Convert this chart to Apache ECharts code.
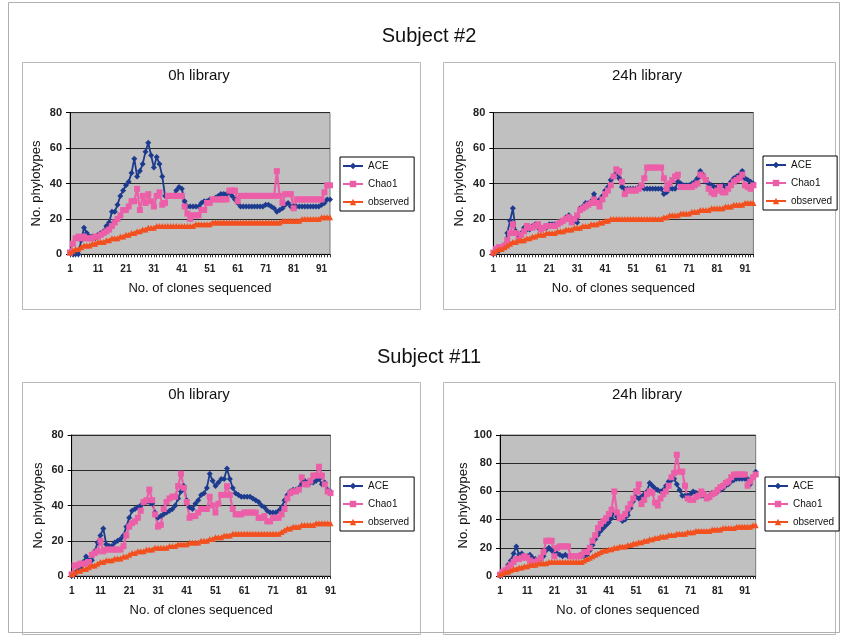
<!DOCTYPE html>
<html><head><meta charset="utf-8">
<script src="https://cdn.jsdelivr.net/npm/echarts@6/dist/echarts.min.js"></script>
<style>html,body{margin:0;padding:0;background:#fff}#c{width:842px;height:635px}</style>
</head><body><div id="c"></div>
<script>
// ---- Subject #2, 0h library (clones 1..94)
const s2h0_ace = [1,0,0,0,8,15,12,10,10,9, 11,12,13,16,18,24,24,28,33,36, 39,41,46,54,44,47,51,58,63,56, 49,55,51,44,33,33,33,33,36,38, 37,30,27,27,27,27,27,29,30,30, 31,31,32,33,34,34,34,35,33,31, 29,27,27,27,27,27,27,27,27,27, 28,28,27,26,24,25,26,28,29,27, 27,27,27,27,27,27,27,27,27,27, 28,29,31,31];
const s2h0_chao = [1,6,9,10,9,10,9,9,9,10, 10,11,12,13,14,16,18,20,22,25, 25,27,30,30,37,25,33,29,34,30, 27,33,35,28,29,33,33,33,33,33, 33,27,23,20,22,22,22,25,25,29, 29,31,31,31,31,31,31,36,36,36, 30,33,33,33,33,33,33,33,33,33, 33,33,33,33,47,33,29,34,34,34, 26,31,31,31,31,31,31,31,31,31, 31,35,39,39];
const s2h0_obs = [1,2,3,3,4,5,5,5,6,6, 7,7,7,8,8,9,9,9,10,10, 11,11,12,12,13,13,14,14,15,15, 15,16,16,16,16,16,16,16,16,16, 16,16,16,16,16,17,17,17,17,17, 17,18,18,18,18,18,18,18,18,18, 18,18,18,18,18,18,18,18,18,18, 18,18,18,18,18,18,19,19,19,19, 19,19,19,20,20,20,20,20,20,20, 21,21,21,21];
// ---- Subject #2, 24h library (clones 1..94)
const s2h24_ace = [0,1,2,3,4,12,19,26,13,11, 12,15,14,14,16,17,15,14,15,15, 17,17,17,17,18,19,21,22,20,19, 18,26,27,29,29,30,34,30,31,33, 36,38,42,44,46,43,38,37,37,37, 37,37,38,38,37,37,37,37,37,37, 37,34,35,37,37,37,41,40,39,39, 39,40,41,43,47,45,41,40,39,38, 38,38,39,38,39,41,43,44,45,47, 43,42,41,40];
const s2h24_chao = [1,3,4,4,5,8,12,17,12,8, 11,13,16,15,15,16,17,14,15,16, 16,16,16,17,18,19,20,21,18,20, 22,25,26,27,28,29,31,29,27,31, 34,36,39,44,48,47,41,34,36,36, 36,36,37,39,43,49,49,49,49,49, 49,43,37,40,42,44,45,38,38,38, 38,38,39,40,45,44,42,37,35,34, 36,38,35,35,37,39,41,42,43,45, 39,38,37,39];
const s2h24_obs = [1,2,3,3,4,5,6,7,7,8, 8,8,9,9,10,10,11,11,11,12, 12,12,12,13,13,13,14,14,14,15, 15,15,16,16,16,17,17,17,18,18, 19,19,20,20,20,20,20,20,20,20, 20,20,20,20,20,20,20,20,20,20, 20,21,21,22,22,22,22,23,23,23, 23,24,24,24,25,25,25,25,26,26, 26,26,26,27,27,27,28,28,28,28, 29,29,29,29];
// ---- Subject #11, 0h library (clones 1..91)
const s11h0_ace = [0,1,3,5,8,11,9,9,14,19, 23,27,18,17,17,19,20,21,23,28, 33,37,38,39,40,42,42,42,41,36, 33,34,35,36,37,38,40,44,48,51, 43,39,38,41,43,46,47,50,58,54, 51,53,55,55,61,55,50,47,46,45, 45,45,45,44,43,42,40,39,37,36, 36,36,37,39,43,46,48,49,49,50, 52,54,53,53,53,54,55,52,53,49, 48];
const s11h0_chao = [1,6,6,7,7,7,8,12,13,14, 20,14,15,15,15,15,15,15,17,23, 28,30,31,33,37,42,43,49,43,35, 28,29,38,42,44,45,45,51,58,50, 42,33,34,34,36,38,38,38,45,40, 36,41,46,46,51,46,38,35,35,35, 36,36,36,36,36,33,33,34,31,31, 33,33,33,35,38,44,47,48,48,49, 56,52,52,54,57,57,62,57,52,48, 47];
const s11h0_obs = [1,2,3,3,4,4,5,6,6,7, 8,8,9,9,9,10,10,10,11,11, 12,13,13,14,14,14,15,15,15,16, 16,16,16,16,17,17,17,18,18,18, 18,19,19,19,19,20,20,20,21,21, 22,22,22,23,23,23,24,24,24,24, 24,24,24,24,24,24,24,24,24,24, 24,24,24,25,26,27,27,28,28,28, 29,29,29,29,29,30,30,30,30,30, 30];
// ---- Subject #11, 24h library (clones 1..95)
const s11h24_ace = [0,1,4,8,11,16,21,15,16,13, 14,15,13,12,11,12,14,18,20,18, 15,16,15,14,15,14,14,14,14,14, 14,14,15,18,22,26,29,32,34,36, 38,41,45,42,41,39,40,43,48,53, 56,55,56,58,60,66,64,62,61,60, 61,64,67,68,69,65,61,57,57,57, 58,60,59,58,57,57,56,57,59,59, 60,61,62,64,65,67,68,69,69,69, 69,69,65,70,74];
const s11h24_chao = [1,3,4,6,8,10,12,12,13,14, 13,11,10,10,11,13,17,25,25,25, 14,20,21,21,21,21,14,14,14,14, 15,17,17,20,25,29,34,37,39,41, 44,47,60,45,41,42,44,48,51,55, 60,65,51,54,58,60,59,52,50,55, 58,60,64,70,73,86,74,74,64,55, 54,54,56,57,60,58,55,56,58,59, 61,63,64,66,67,70,72,72,72,72, 72,64,67,70,72];
const s11h24_obs = [1,2,3,3,4,5,5,6,6,7, 7,8,8,8,9,9,9,9,10,10, 10,10,10,10,10,10,10,10,10,10, 10,11,12,13,14,15,16,17,18,18, 19,19,20,20,21,21,21,22,22,23, 23,24,24,25,25,26,26,27,27,28, 28,28,29,29,29,30,30,30,30,31, 31,31,32,32,32,32,32,32,33,33, 33,33,34,34,34,34,34,35,35,35, 35,35,35,36,36];

const seriesNames = ['ACE', 'Chao1', 'observed'];
const subjectTitles = ['Subject #2', 'Subject #11'];
const panelTitles = ['0h library', '24h library', '0h library', '24h library'];
const yMax = [80, 80, 80, 100];
const xName = 'No. of clones sequenced';
const yName = 'No. phylotypes';

function clonesFor(arr) { return arr.map((_, k) => String(k + 1)); }

const panels = [
  {ace: s2h0_ace, chao: s2h0_chao, obs: s2h0_obs},
  {ace: s2h24_ace, chao: s2h24_chao, obs: s2h24_obs},
  {ace: s11h0_ace, chao: s11h0_chao, obs: s11h0_obs},
  {ace: s11h24_ace, chao: s11h24_chao, obs: s11h24_obs}
];

// layout (pixels)
const grids = [
  {left: 70, top: 112.7, width: 260, height: 141.6},
  {left: 493.3, top: 112.7, width: 260.1, height: 141.6},
  {left: 71.7, top: 435, width: 258.8, height: 141},
  {left: 500, top: 435, width: 255.7, height: 141}
];
const legendPos = [
  {left: 340, top: 157}, {left: 763, top: 156},
  {left: 340, top: 477}, {left: 765, top: 477}
];
const panelBoxes = [
  {x: 22, y: 62, w: 398, h: 247}, {x: 443, y: 62, w: 392, h: 247},
  {x: 22, y: 382, w: 398, h: 252}, {x: 443, y: 382, w: 392, h: 252}
];
const panelTitlePos = [[199, 76], [647, 76], [199, 395], [647, 395]];

const colors = {ace: '#1d3b8e', chao: '#ec5fa8', obs: '#f2501f'};
const font = '"Liberation Sans", Arial, sans-serif';

const option = {
  animation: false,
  backgroundColor: '#ffffff',
  textStyle: {fontFamily: font},
  grid: [], xAxis: [], yAxis: [], series: [], legend: [],
  graphic: []
};

option.graphic.push({type: 'rect', shape: {x: 8.5, y: 2.5, width: 831, height: 630}, style: {fill: 'none', stroke: '#b0b0b0', lineWidth: 1}, silent: true});
panelBoxes.forEach(b => option.graphic.push({type: 'rect', shape: {x: b.x + 0.5, y: b.y + 0.5, width: b.w, height: b.h}, style: {fill: '#ffffff', stroke: '#b8b8b8', lineWidth: 1}, silent: true, z: -1}));
option.graphic.push({type: 'text', x: 429, y: 36, style: {text: subjectTitles[0], font: '20px ' + font, fill: '#111', textAlign: 'center', textVerticalAlign: 'middle'}});
option.graphic.push({type: 'text', x: 429, y: 357, style: {text: subjectTitles[1], font: '20px ' + font, fill: '#111', textAlign: 'center', textVerticalAlign: 'middle'}});
panelTitlePos.forEach((p, i) => option.graphic.push({type: 'text', x: p[0], y: p[1], style: {text: panelTitles[i], font: '15px ' + font, fill: '#111', textAlign: 'center', textVerticalAlign: 'middle'}}));

panels.forEach((p, i) => {
  option.grid.push(Object.assign({show: true, backgroundColor: '#c0c0c0', borderColor: '#7a7a7a', borderWidth: 1}, grids[i]));
  option.xAxis.push({
    type: 'category', gridIndex: i, boundaryGap: false, data: clonesFor(p.obs),
    name: xName, nameLocation: 'middle', nameGap: 28,
    nameTextStyle: {fontSize: 13, color: '#111', fontFamily: font},
    axisLine: {show: true, lineStyle: {color: '#000', width: 1}},
    axisTick: {show: true, interval: 0, length: 3, lineStyle: {color: '#333'}},
    axisLabel: {interval: 9, fontSize: 10, color: '#222', margin: 10, fontFamily: font, fontWeight: 'bold'},
    splitLine: {show: false}
  });
  option.yAxis.push({
    type: 'value', gridIndex: i, min: 0, max: yMax[i], interval: 20,
    name: yName, nameLocation: 'middle', nameGap: i === 3 ? 29 : 27,
    nameTextStyle: {fontSize: 13, color: '#111', fontFamily: font},
    axisLine: {show: true, lineStyle: {color: '#000', width: 1}},
    axisTick: {show: true, length: 4, lineStyle: {color: '#000'}},
    axisLabel: {fontSize: 11, color: '#222', margin: 8, fontFamily: font, fontWeight: 'bold'},
    splitLine: {show: true, lineStyle: {color: '#2a2a2a', width: 1}}
  });
  const mk = (name, data, sym, col, size, w) => ({
    type: 'line', name, data, xAxisIndex: i, yAxisIndex: i,
    symbol: sym, symbolSize: size, showAllSymbol: true,
    lineStyle: {color: col, width: w}, itemStyle: {color: col, borderWidth: 0},
    emphasis: {disabled: true}
  });
  option.series.push(mk(seriesNames[0], p.ace, 'diamond', colors.ace, 6, 1.8));
  option.series.push(mk(seriesNames[1], p.chao, 'rect', colors.chao, 6, 2.2));
  option.series.push(mk(seriesNames[2], p.obs, 'triangle', colors.obs, 6, 2.2));
  option.legend.push(Object.assign({
    data: seriesNames, orient: 'vertical', itemWidth: 20, itemHeight: 8, itemGap: 8,
    backgroundColor: '#ffffff', borderColor: '#000', borderWidth: 1, borderRadius: 0,
    padding: [4, 5, 4, 2], textStyle: {fontSize: 10, color: '#111', fontFamily: font},
    selectedMode: false
  }, legendPos[i]));
});

const chart = echarts.init(document.getElementById('c'), null, {renderer: 'canvas'});
chart.setOption(option);
</script>
</body></html>
